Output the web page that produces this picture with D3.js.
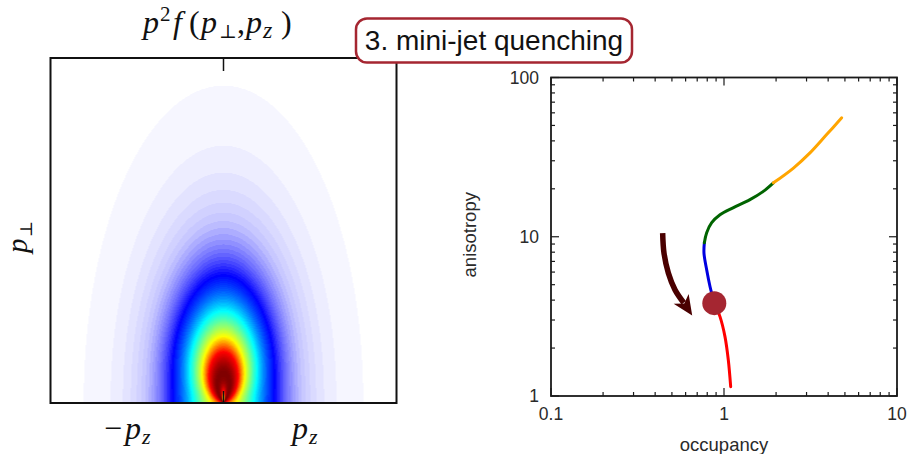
<!DOCTYPE html>
<html>
<head>
<meta charset="utf-8">
<script src="https://cdn.jsdelivr.net/npm/d3@7"></script>
<style>
  html, body { margin: 0; padding: 0; background: #ffffff; }
  svg { display: block; }
</style>
</head>
<body>
<svg id="chart" width="912" height="454"></svg>
<script>
// ---------------- data ----------------
// Trajectory in the (occupancy, anisotropy) plane, one array per stage.
const stageRed    = [[1.093, 1.144], [1.059, 1.684], [1.013, 2.36], [0.948, 3.15], [0.879, 3.83]];
const stageBlue   = [[0.879, 3.83], [0.830, 4.87], [0.794, 6.20], [0.766, 7.90], [0.770, 9.17]];
const stageGreen  = [[0.770, 9.17], [0.794, 10.6], [0.849, 12.25], [0.948, 13.75], [1.127, 15.2], [1.413, 17.1], [1.68, 19.2], [1.93, 21.8]];
const stageOrange = [[1.93, 21.8], [2.52, 27.0], [3.14, 33.6], [3.92, 43.8], [4.79, 55.8]];
const currentState = [0.879, 3.83];
const flowArrow = [[0.442, 10.55], [0.450, 7.90], [0.477, 5.91], [0.521, 4.64], [0.585, 3.85], [0.655, 3.20]];

const xTickValues = [0.1, 1, 10];
const xTickLabels = ["0.1", "1", "10"];
const yTickValues = [1, 10, 100];
const yTickLabels = ["1", "10", "100"];

// Momentum-space distribution p^2 f(p_perp, p_z): radial profile + anisotropy parameters
const peakMomentum   = 0.173;   // |p| of the maximum along p_perp
const riseExponent   = 1.2;     // below the peak
const fallExponent   = 2.5;     // above the peak
const widthMax       = 0.44;    // asymptotic p_z / p_perp width ratio
const widthScale     = 0.127;   // momentum at which the width saturates
const colorLevels    = 110;     // number of discrete shading levels
const colorStops     = [0, 0.06, 0.18, 0.38, 0.5, 0.63, 0.82, 1.0];
const colorValues    = ["#ffffff", "#c2c2ff", "#0000ff", "#00ffff", "#80ff80", "#ffff00", "#ff0000", "#800000"];

// ---------------- layout ----------------
const svg = d3.select("#chart");
const left  = { x0: 50.5, x1: 396.5, y0: 58, y1: 403 };
const right = { x0: 551, x1: 897, y0: 77.5, y1: 396 };

// ---------------- left panel: heat map ----------------
const pz = d3.scaleLinear().domain([-1, 1]).range([left.x0, left.x1]);
const pt = d3.scaleLinear().domain([0, 2]).range([left.y1, left.y0]);

function density(z, t) {
  const r = Math.hypot(z, t);
  if (r < 1e-9) return 0;
  const a = widthMax * (1 - Math.exp(-r / widthScale));
  const u = Math.sqrt(t * t + (z / a) * (z / a));
  const x = u / peakMomentum;
  const k = x < 1 ? riseExponent : fallExponent;
  return Math.exp(k * Math.log(x) - 2 * k * (Math.sqrt(x) - 1));
}

const colour = d3.scaleLinear().domain(colorStops).range(colorValues)
  .interpolate(d3.interpolateRgb).clamp(true);

const W = Math.round(left.x1 - left.x0), H = Math.round(left.y1 - left.y0);
const canvas = document.createElement("canvas");
canvas.width = W; canvas.height = H;
const ctx = canvas.getContext("2d");
const img = ctx.createImageData(W, H);
for (let j = 0; j < H; j++) {
  const t = pt.invert(left.y0 + j + 0.5);
  for (let i = 0; i < W; i++) {
    const z = pz.invert(left.x0 + i + 0.5);
    const v = Math.round(density(z, t) * colorLevels) / colorLevels;
    const c = d3.rgb(colour(Math.min(1, v)));
    const o = 4 * (j * W + i);
    img.data[o] = c.r; img.data[o + 1] = c.g; img.data[o + 2] = c.b; img.data[o + 3] = 255;
  }
}
ctx.putImageData(img, 0, 0);

svg.append("image")
  .attr("x", left.x0).attr("y", left.y0)
  .attr("width", W).attr("height", H)
  .attr("preserveAspectRatio", "none")
  .attr("href", canvas.toDataURL());

svg.append("rect")
  .attr("x", left.x0).attr("y", left.y0)
  .attr("width", left.x1 - left.x0).attr("height", left.y1 - left.y0)
  .attr("fill", "none").attr("stroke", "#111").attr("stroke-width", 2);

// centre ticks at p_z = 0
svg.append("line").attr("x1", pz(0)).attr("x2", pz(0)).attr("y1", left.y0).attr("y2", left.y0 + 13)
  .attr("stroke", "#111").attr("stroke-width", 1.5);
svg.append("line").attr("x1", pz(0)).attr("x2", pz(0)).attr("y1", left.y1).attr("y2", left.y1 - 12)
  .attr("stroke", "#111").attr("stroke-width", 1.5);

const mathFont = "'Liberation Serif', 'DejaVu Serif', serif";

// math-style label built from glyph runs: [text, x offset, dy, size, italic]
function mathLabel(parent, baseX, baseY, runs) {
  const t = parent.append("text")
    .attr("y", baseY)
    .attr("font-family", mathFont).attr("fill", "#111");
  runs.forEach(([s, dx, dy, size, it]) => {
    t.append("tspan")
      .attr("x", baseX + dx)
      .attr("y", baseY + dy)
      .attr("font-size", size)
      .attr("font-style", it ? "italic" : "normal")
      .text(s);
  });
  return t;
}

// title p^2 f(p_perp, p_z)
mathLabel(svg, 143, 33, [
  ["p", 0, 0, 32, true], ["2", 17, -12, 21, false], ["f", 30, 0, 32, true],
  ["(", 46, 0, 32, false], ["p", 58, 0, 32, true], ["\u22a5", 76, 5, 19, false],
  [",", 94, 0, 32, false], ["p", 103, 0, 32, true], ["z", 120, 5, 24, true], [")", 138, 0, 32, false]
]);

// -p_z and p_z labels
mathLabel(svg, 104, 439, [["\u2212", 0, 0, 32, false], ["p", 21, 0, 32, true], ["z", 38, 5, 22, true]]);
mathLabel(svg, 292, 439, [["p", 0, 0, 32, true], ["z", 17, 5, 22, true]]);

// p_perp label, rotated
const ylab = svg.append("g").attr("transform", "translate(27,253) rotate(-90)");
mathLabel(ylab, 0, 0, [["p", 0, 0, 29, true], ["\u22a5", 16, 5, 17, false]]);

// ---------------- right panel: trajectory ----------------
const x = d3.scaleLog().domain([0.1, 10]).range([right.x0, right.x1]);
const y = d3.scaleLog().domain([1, 100]).range([right.y1, right.y0]);

const minorX = [], minorY = [];
[0.1, 1].forEach(d => { for (let m = 2; m <= 9; m++) minorX.push(d * m); });
[1, 10].forEach(d => { for (let m = 2; m <= 9; m++) minorY.push(d * m); });

const frame = svg.append("g").attr("stroke", "#1a1a1a");
const tickSets = [
  { vals: xTickValues, len: 8, axis: "x" }, { vals: minorX, len: 4, axis: "x" },
  { vals: yTickValues, len: 8, axis: "y" }, { vals: minorY, len: 4, axis: "y" }
];
tickSets.forEach(s => {
  s.vals.forEach(v => {
    if (s.axis === "x") {
      frame.append("line").attr("x1", x(v)).attr("x2", x(v)).attr("y1", right.y1).attr("y2", right.y1 - s.len).attr("stroke-width", 1.2);
      frame.append("line").attr("x1", x(v)).attr("x2", x(v)).attr("y1", right.y0).attr("y2", right.y0 + s.len).attr("stroke-width", 1.2);
    } else {
      frame.append("line").attr("y1", y(v)).attr("y2", y(v)).attr("x1", right.x0).attr("x2", right.x0 + s.len).attr("stroke-width", 1.2);
      frame.append("line").attr("y1", y(v)).attr("y2", y(v)).attr("x1", right.x1).attr("x2", right.x1 - s.len).attr("stroke-width", 1.2);
    }
  });
});
frame.append("rect")
  .attr("x", right.x0).attr("y", right.y0)
  .attr("width", right.x1 - right.x0).attr("height", right.y1 - right.y0)
  .attr("fill", "none").attr("stroke-width", 1.8);

const sansFont = "'Liberation Sans', Arial, Helvetica, sans-serif";
svg.append("g").selectAll("text").data(xTickValues).join("text")
  .attr("x", d => x(d)).attr("y", 420)
  .attr("text-anchor", "middle")
  .attr("font-family", sansFont).attr("font-size", 17.5).attr("fill", "#2a2a2a")
  .text((d, i) => xTickLabels[i]);
svg.append("g").selectAll("text").data(yTickValues).join("text")
  .attr("x", 539).attr("y", d => y(d) + 6)
  .attr("text-anchor", "end")
  .attr("font-family", sansFont).attr("font-size", 17.5).attr("fill", "#2a2a2a")
  .text((d, i) => yTickLabels[i]);

svg.append("text")
  .attr("x", x(1)).attr("y", 451)
  .attr("text-anchor", "middle")
  .attr("font-family", sansFont).attr("font-size", 18.5).attr("fill", "#2a2a2a")
  .text("occupancy");
svg.append("text")
  .attr("transform", `translate(476,${y(10) - 2}) rotate(-90)`)
  .attr("text-anchor", "middle")
  .attr("font-family", sansFont).attr("font-size", 18.5).attr("fill", "#2a2a2a")
  .text("anisotropy");

const line = d3.line().x(d => x(d[0])).y(d => y(d[1])).curve(d3.curveCatmullRom.alpha(0.5));
const plot = svg.append("g").attr("fill", "none").attr("stroke-width", 3).attr("stroke-linecap", "round");
[[stageRed, "#ff0000"], [stageBlue, "#0000e0"], [stageGreen, "#006400"], [stageOrange, "#ffa500"]]
  .forEach(([pts, c]) => plot.append("path").attr("d", line(pts)).attr("stroke", c));

// current state marker
svg.append("circle")
  .attr("cx", x(currentState[0])).attr("cy", y(currentState[1])).attr("r", 12)
  .attr("fill", "#a52631");

// flow direction arrow
const shaft = flowArrow.slice(0, -1);
svg.append("path")
  .attr("d", line(shaft))
  .attr("fill", "none").attr("stroke", "#4a0000").attr("stroke-width", 5.5);
{
  const tip = flowArrow[flowArrow.length - 1];
  const base = flowArrow[flowArrow.length - 2];
  const tx = x(tip[0]), ty = y(tip[1]);
  const bx = x(base[0]), by = y(base[1]);
  const ang = Math.atan2(ty - by, tx - bx);
  const len = 20, half = 9;
  const backX = tx - len * Math.cos(ang), backY = ty - len * Math.sin(ang);
  const nx = -Math.sin(ang), ny = Math.cos(ang);
  const notchX = tx - 0.72 * len * Math.cos(ang), notchY = ty - 0.72 * len * Math.sin(ang);
  svg.append("path")
    .attr("d", `M${tx},${ty} L${backX + half * nx},${backY + half * ny} L${notchX},${notchY} L${backX - half * nx},${backY - half * ny} Z`)
    .attr("fill", "#4a0000");
}

// ---------------- stage annotation box ----------------
const box = svg.append("g");
box.append("rect")
  .attr("x", 356).attr("y", 18.5).attr("width", 276).attr("height", 44)
  .attr("rx", 11).attr("ry", 11)
  .attr("fill", "#ffffff").attr("stroke", "#a52631").attr("stroke-width", 2.5);
box.append("text")
  .attr("x", 494).attr("y", 49.5)
  .attr("text-anchor", "middle")
  .attr("font-family", sansFont).attr("font-size", 28).attr("fill", "#111")
  .text("3. mini-jet quenching");
</script>
</body>
</html>
